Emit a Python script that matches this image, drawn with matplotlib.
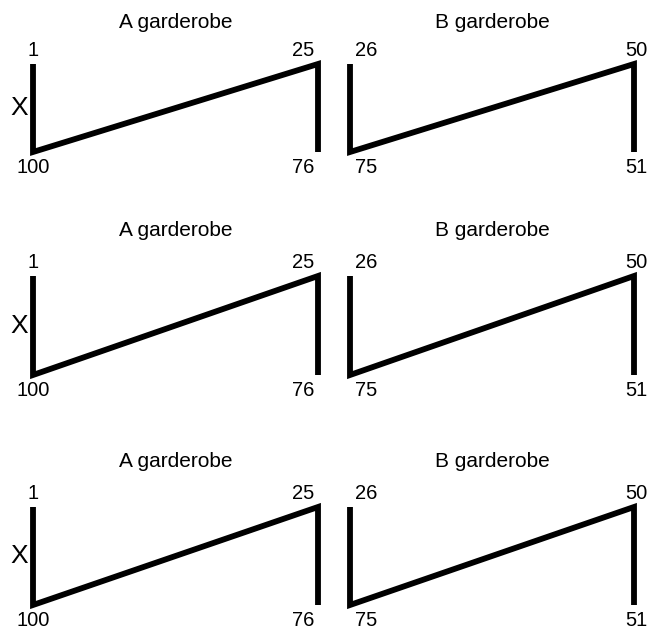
import matplotlib
matplotlib.use("Agg")
import matplotlib.pyplot as plt

plt.rcParams['font.family'] = ['Liberation Sans', 'DejaVu Sans']

# Seat numbers at the corners of each garderobe, one panel per column
panel_titles = ["A garderobe", "B garderobe"]
top_left = ["1", "26"]
top_right = ["25", "50"]
bottom_left = ["100", "75"]
bottom_right = ["76", "51"]
row_label = "X"
n_rows = 3

# Path of the row of hooks: down the left side, diagonal back up, down the right side
path_x = [0, 0, 1, 1]
path_y = [1, 0, 1, 0]

W, H = 648, 632
fig = plt.figure(figsize=(W / 100, H / 100), dpi=100)

# pixel extents (from the top) of the drawn shapes
row_px = [(64, 152), (276, 375), (507, 605)]
col_px = [(33, 318), (350, 634)]

def add_label(ax, x, y, text, dx, dy, ha, size=14.5, va='baseline'):
    ax.annotate(text, xy=(x, y), xycoords='axes fraction',
                xytext=(dx, dy), textcoords='offset pixels',
                ha=ha, va=va, fontsize=size, color='black')

for r in range(n_rows):
    top, bot = row_px[r]
    for c in range(2):
        left, right = col_px[c]
        ax = fig.add_axes([left / W, 1 - bot / H, (right - left) / W, (bot - top) / H])
        ax.set_xlim(0, 1)
        ax.set_ylim(0, 1)
        ax.axis('off')
        ax.plot(path_x, path_y, color='black', lw=4.2, clip_on=False,
                solid_joinstyle='miter', solid_capstyle='butt')

        ax.annotate(panel_titles[c], xy=(0.5, 1), xycoords='axes fraction',
                    xytext=(0, 40 if r else 36), textcoords='offset pixels',
                    ha='center', va='baseline', fontsize=15)
        if c == 0:
            add_label(ax, 0, 1, top_left[c], 0, 8, 'center')
            add_label(ax, 1, 1, top_right[c], -4, 8, 'right')
            add_label(ax, 0, 0, bottom_left[c], 0, -21, 'center')
            add_label(ax, 1, 0, bottom_right[c], -4, -21, 'right')
            add_label(ax, 0, 0.5, row_label, -5, 0, 'right', size=19, va='center')
        else:
            add_label(ax, 0, 1, top_left[c], 5, 8, 'left')
            add_label(ax, 1, 1, top_right[c], 2, 8, 'center')
            add_label(ax, 0, 0, bottom_left[c], 5, -21, 'left')
            add_label(ax, 1, 0, bottom_right[c], 2, -21, 'center')

fig.savefig("out.png", dpi=100)
